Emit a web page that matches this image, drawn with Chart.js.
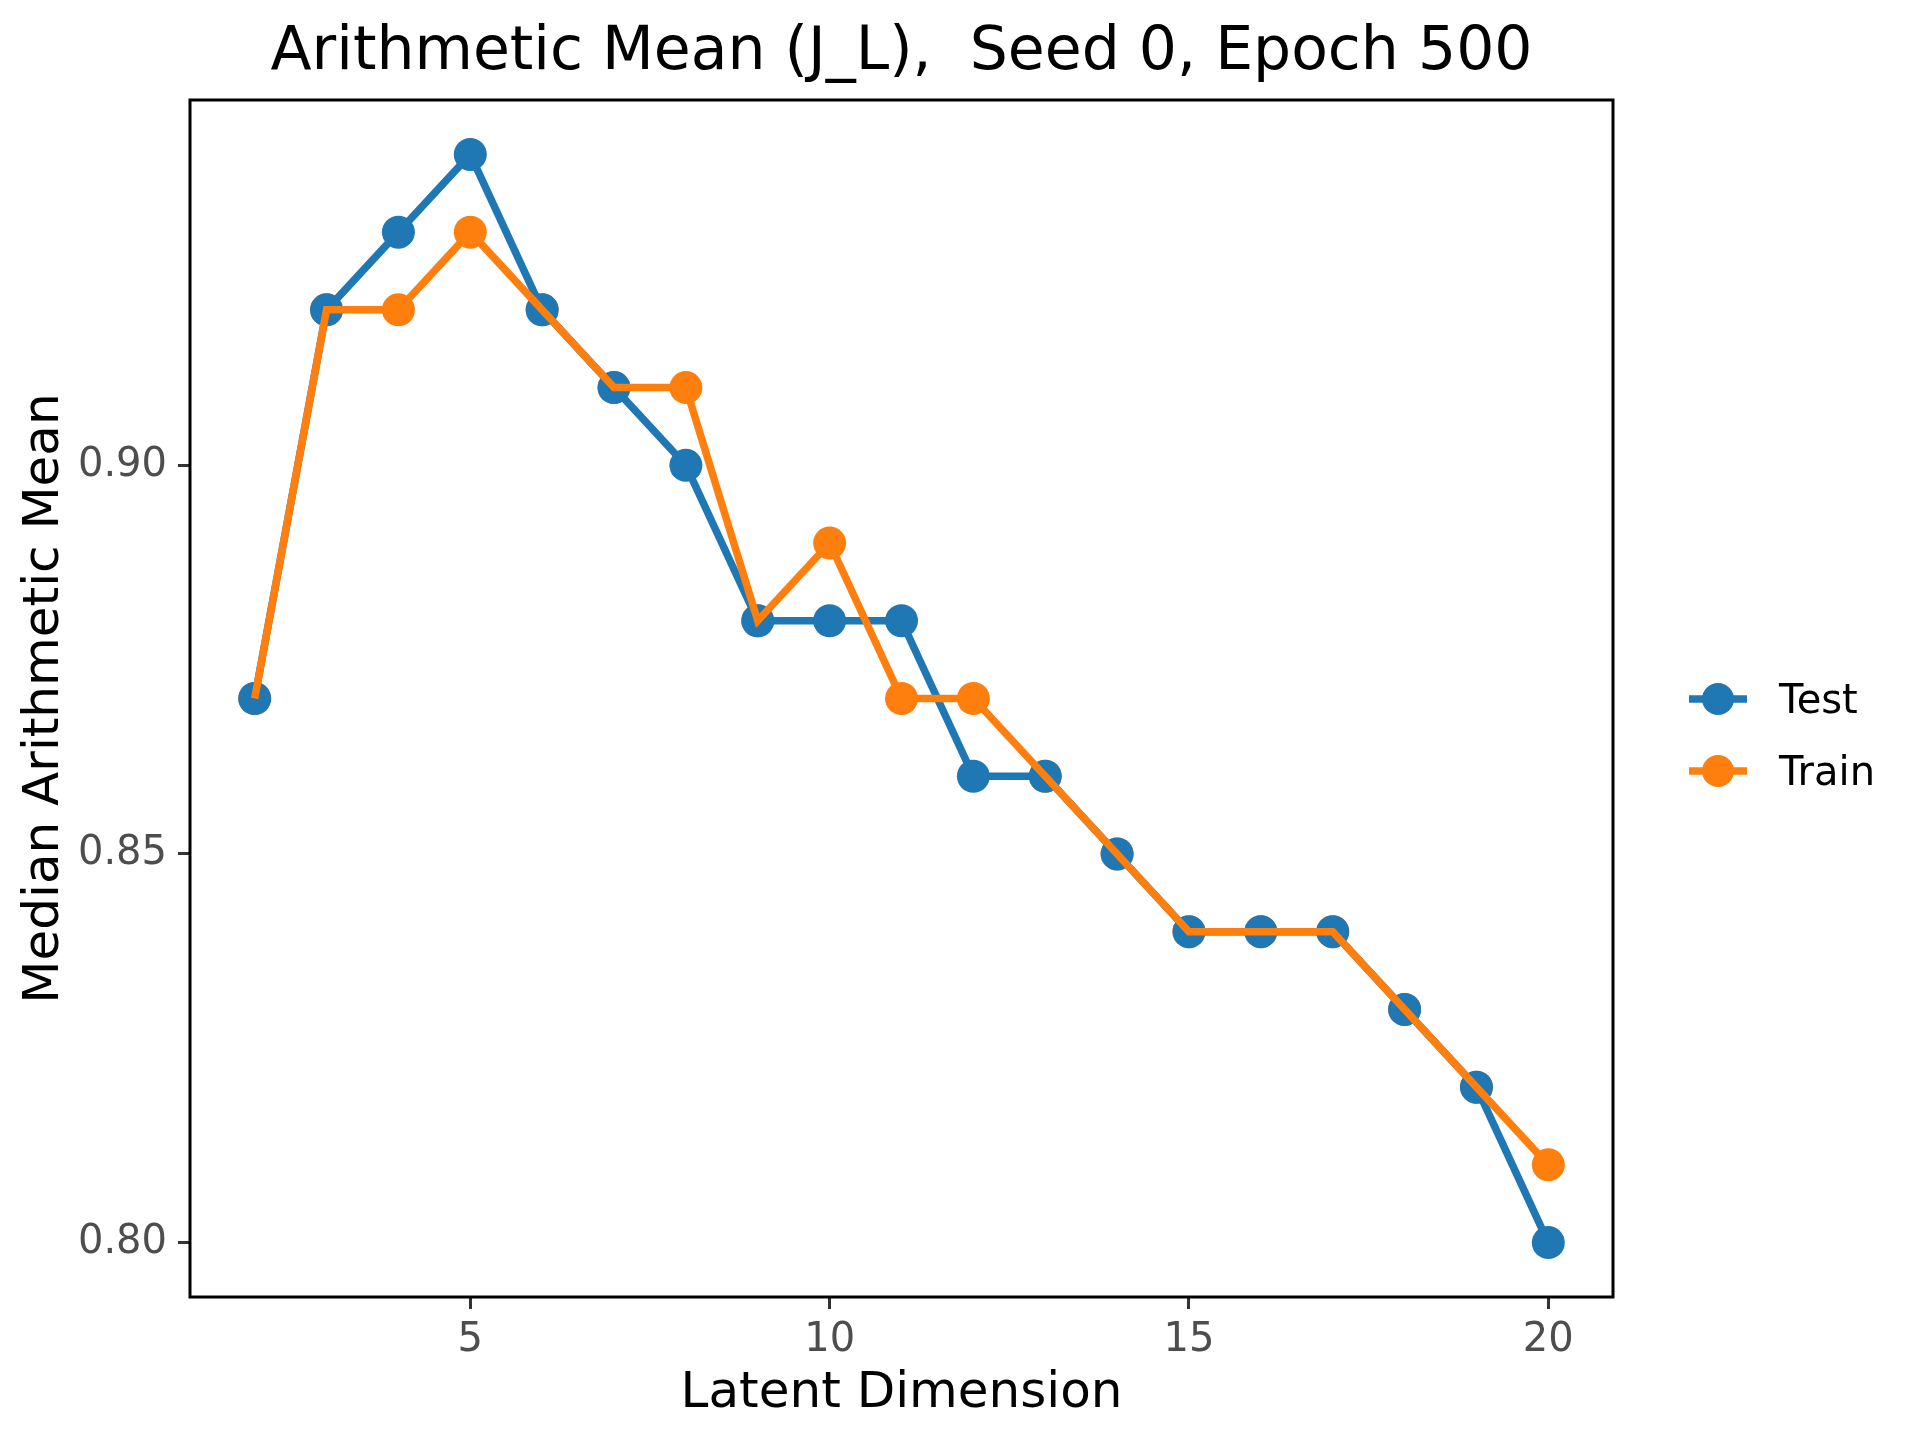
<!DOCTYPE html>
<html>
<head>
<meta charset="utf-8">
<title>Arithmetic Mean (J_L)</title>
<script src="https://cdn.jsdelivr.net/npm/chart.js@4.4.0/dist/chart.umd.min.js"></script>
<style>
  html, body { margin: 0; padding: 0; background: #fff; }
  canvas { display: block; }
</style>
</head>
<body>
<canvas id="chartMedia" width="1920" height="1440"></canvas>
<script>
// Datos
const dims = [2, 3, 4, 5, 6, 7, 8, 9, 10, 11, 12, 13, 14, 15, 16, 17, 18, 19, 20];
const testValues = [0.87, 0.92, 0.93, 0.94, 0.92, 0.91, 0.90, 0.88, 0.88, 0.88, 0.86, 0.86, 0.85, 0.84, 0.84, 0.84, 0.83, 0.82, 0.80];
const trainValues = [0.87, 0.92, 0.92, 0.93, 0.92, 0.91, 0.91, 0.88, 0.89, 0.87, 0.87, 0.86, 0.85, 0.84, 0.84, 0.84, 0.83, 0.82, 0.81];
const xTicks = [5, 10, 15, 20];
const yTicks = [0.80, 0.85, 0.90];
const seriesLabels = ['Test', 'Train'];
const chartTitle = 'Arithmetic Mean (J_L),  Seed 0, Epoch 500';

const BLUE = '#1f77b4';
const ORANGE = '#ff7f0e';
const FONT = '"DejaVu Sans", sans-serif';

Chart.defaults.font.family = FONT;

function toPoints(values) {
    return dims.map((d, i) => ({ x: d, y: values[i] }));
}

// Titulo, leyenda y marco del area de dibujo
const decoracion = {
    id: 'decoracion',
    afterDraw(chart) {
        const ctx = chart.ctx;
        const area = chart.chartArea;
        ctx.save();

        // marco
        ctx.strokeStyle = '#000';
        ctx.lineWidth = 3;
        ctx.strokeRect(area.left, area.top, area.right - area.left, area.bottom - area.top);

        // titulo
        ctx.fillStyle = '#000';
        ctx.font = '60px ' + FONT;
        ctx.textAlign = 'center';
        ctx.textBaseline = 'alphabetic';
        ctx.fillText(chartTitle, (area.left + area.right) / 2, 69);

        // leyenda
        const colors = [BLUE, ORANGE];
        const rows = [699, 771];
        ctx.font = '40px ' + FONT;
        ctx.textAlign = 'left';
        seriesLabels.forEach((label, i) => {
            const y = rows[i];
            ctx.strokeStyle = colors[i];
            ctx.lineWidth = 7.5;
            ctx.beginPath();
            ctx.moveTo(1689, y);
            ctx.lineTo(1747, y);
            ctx.stroke();
            ctx.fillStyle = colors[i];
            ctx.beginPath();
            ctx.arc(1718, y, 16, 0, Math.PI * 2);
            ctx.fill();
            ctx.fillStyle = '#000';
            ctx.fillText(label, 1779, y + 14);
        });
        ctx.restore();
    }
};

const ctx = document.getElementById('chartMedia');

new Chart(ctx, {
    type: 'line',
    data: {
        datasets: [
            {
                // linea de Train encima de todo
                label: 'Train',
                data: toPoints(trainValues),
                borderColor: ORANGE,
                borderWidth: 7.5,
                pointRadius: 0,
                pointHoverRadius: 0,
                fill: false,
                tension: 0,
                order: 0
            },
            {
                label: 'Test',
                data: toPoints(testValues),
                borderColor: BLUE,
                backgroundColor: BLUE,
                borderWidth: 7.5,
                pointRadius: 16.5,
                pointBorderWidth: 0,
                pointBackgroundColor: BLUE,
                fill: false,
                tension: 0,
                order: 1
            },
            {
                // marcadores de Train debajo
                label: 'Train puntos',
                data: toPoints(trainValues),
                showLine: false,
                pointRadius: 16.5,
                pointBorderWidth: 0,
                pointBackgroundColor: ORANGE,
                backgroundColor: ORANGE,
                order: 2
            }
        ]
    },
    options: {
        responsive: false,
        animation: false,
        devicePixelRatio: 1,
        layout: {
            padding: { left: 0, top: 100, right: 307, bottom: 0 }
        },
        plugins: {
            legend: { display: false },
            title: { display: false },
            tooltip: { enabled: false }
        },
        scales: {
            x: {
                type: 'linear',
                min: 1.1,
                max: 20.9,
                afterBuildTicks: (scale) => { scale.ticks = xTicks.map(v => ({ value: v })); },
                afterFit: (scale) => { scale.height = 143; },
                grid: {
                    display: true,
                    drawOnChartArea: false,
                    drawTicks: true,
                    tickLength: 12,
                    color: '#333',
                    lineWidth: 3
                },
                border: { display: false },
                ticks: {
                    color: '#4d4d4d',
                    font: { size: 40 },
                    padding: 8,
                    maxRotation: 0,
                    callback: (v) => String(v)
                },
                title: {
                    display: true,
                    text: 'Latent Dimension',
                    color: '#000',
                    font: { size: 50 },
                    padding: { top: 0, bottom: 16 }
                }
            },
            y: {
                type: 'linear',
                min: 0.793,
                max: 0.947,
                afterBuildTicks: (scale) => { scale.ticks = yTicks.map(v => ({ value: v })); },
                afterFit: (scale) => { scale.width = 190; },
                grid: {
                    display: true,
                    drawOnChartArea: false,
                    drawTicks: true,
                    tickLength: 12,
                    color: '#333',
                    lineWidth: 3
                },
                border: { display: false },
                ticks: {
                    color: '#4d4d4d',
                    font: { size: 40 },
                    padding: 11,
                    callback: (v) => v.toFixed(2)
                },
                title: {
                    display: true,
                    text: 'Median Arithmetic Mean',
                    color: '#000',
                    font: { size: 50 },
                    padding: { top: 15, bottom: 0 }
                }
            }
        }
    },
    plugins: [decoracion]
});
</script>
</body>
</html>
